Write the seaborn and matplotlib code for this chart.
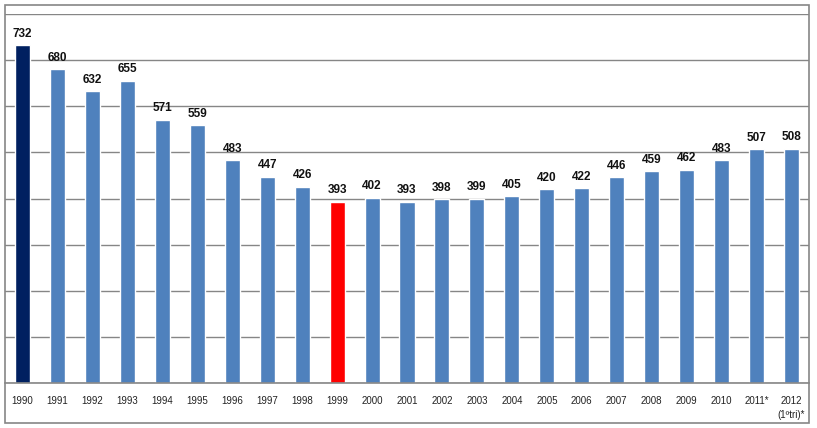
import matplotlib
matplotlib.use("Agg")
import matplotlib.pyplot as plt
import seaborn as sns
import pandas as pd
from matplotlib.patches import Rectangle

years = ["1990", "1991", "1992", "1993", "1994", "1995", "1996", "1997", "1998",
         "1999", "2000", "2001", "2002", "2003", "2004", "2005", "2006", "2007",
         "2008", "2009", "2010", "2011*", "2012\n(1ºtri)*"]
values = [732, 680, 632, 655, 571, 559, 483, 447, 426, 393, 402, 393, 398, 399,
          405, 420, 422, 446, 459, 462, 483, 507, 508]
colors = ["#002060"] + ["#4F81BD"] * 8 + ["#FF0000"] + ["#4F81BD"] * 13

df = pd.DataFrame({"year": years, "value": values})

sns.set_style("white")
plt.rcParams["font.family"] = ["Liberation Sans", "DejaVu Sans"]

W, H = 817, 428
fig = plt.figure(figsize=(W / 100, H / 100), dpi=100)
ax = fig.add_axes([5 / W, (H - 383) / H, 804 / W, (383 - 14) / H])

sns.barplot(data=df, x="year", y="value", hue="year", palette=colors,
            width=0.43, legend=False, ax=ax, saturation=1)

for c in ax.containers:
    ax.bar_label(c, padding=4, fontsize=8.5, fontweight="bold", color="#111111")

ax.set_ylim(0, 800)
ax.set_xlim(-0.5, len(years) - 0.5)
ax.set_yticks(range(0, 801, 100))
ax.set_yticklabels([])
ax.yaxis.grid(True, color="#868686", linewidth=1.0)
ax.set_axisbelow(True)
ax.tick_params(axis="y", length=0)
ax.set_xlabel("")
ax.set_ylabel("")
ax.set_xticks(range(len(years)))
ax.set_xticklabels(years, fontsize=7, color="#222222", linespacing=1.5, va="top")
ax.set_xticks([i - 0.5 for i in range(len(years) + 1)], minor=True)
ax.tick_params(axis="x", which="major", length=0, pad=9)
ax.tick_params(axis="x", which="minor", length=3, width=1, color="#868686", direction="out")
for s in ["top", "right", "left"]:
    ax.spines[s].set_visible(False)
ax.spines["bottom"].set_color("#868686")
ax.spines["bottom"].set_linewidth(1.2)

fig.patches.append(Rectangle((5 / W, (H - 423) / H), 804 / W, 418 / H,
                             transform=fig.transFigure, fill=False,
                             edgecolor="#868686", linewidth=1.2))

fig.savefig("out.png", dpi=100)
